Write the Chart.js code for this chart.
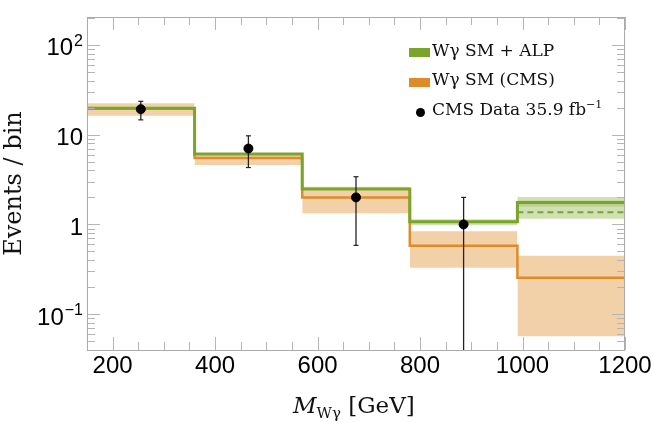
<!DOCTYPE html>
<html>
<head>
<meta charset="utf-8">
<script src="https://cdn.jsdelivr.net/npm/chart.js@4.4.1/dist/chart.umd.min.js"></script>
<style>
  html, body { margin: 0; padding: 0; background: #fff; }
  #wrap { position: relative; width: 654px; height: 422px; }
  .serif { font-family: "DejaVu Serif", serif; color: #111; position: absolute; white-space: nowrap; }
  .legend-row { font-size: 17px; line-height: 17px; }
  .patch { position: absolute; width: 21px; height: 9px; }
  .dot { position: absolute; width: 9px; height: 9px; border-radius: 50%; background: #000; }
  sup { font-size: 11px; vertical-align: 0; position: relative; top: -7px; }
  #xtitle { font-size: 23px; line-height: 23px; }
  #xtitle sub { font-size: 15px; vertical-align: 0; position: relative; top: 5px; }
</style>
</head>
<body>
<div id="wrap">
  <canvas id="chart"></canvas>

  <div class="patch" style="left:409px; top:48px; background:#7aa52a;"></div>
  <div class="serif legend-row" style="left:432px; top:41.5px;">Wγ SM + ALP</div>
  <div class="patch" style="left:409px; top:78px; background:#de8c28;"></div>
  <div class="serif legend-row" style="left:432px; top:71px;">Wγ SM (CMS)</div>
  <div class="dot" style="left:416px; top:108px;"></div>
  <div class="serif legend-row" style="left:432px; top:100.5px;">CMS Data 35.9 fb<sup>−1</sup></div>

  <div id="xtitle" class="serif" style="left:293px; top:393.5px;"><i>M</i><sub>Wγ</sub> [GeV]</div>
</div>

<script>
// bins and values
const binEdges = [150, 360, 570, 780, 990, 1200];
const smAlp = [19.7, 6.1, 2.48, 1.07, 1.76];
const smAlpBandLo = [null, null, null, 0.98, 1.16];
const smAlpBandHi = [null, null, null, 1.14, 2.02];
const smAlpInnerLo = [null, null, null, null, 1.58];
const smAlpInnerHi = [null, null, null, null, 1.85];
const smAlpDashed = [null, null, null, null, 1.37];
const smCms = [19.5, 5.5, 2.0, 0.58, 0.255];
const smCmsBandLo = [16.2, 4.6, 1.33, 0.33, 0.057];
const smCmsBandHi = [22.4, 6.2, 2.63, 0.84, 0.448];

const dataX = [255, 465, 675, 885];
const dataY = [19.2, 7.0, 2.0, 1.0];
const dataLo = [14.6, 4.3, 0.585, 0.01];
const dataHi = [23.5, 9.7, 3.4, 2.0];

const xTickValues = [200, 400, 600, 800, 1000, 1200];
const xMinorTicks = [150, 250, 300, 350, 450, 500, 550, 650, 700, 750, 850, 900, 950, 1050, 1100, 1150];
const yTickValues = [0.1, 1, 10, 100];
const yTickBase = ['10', '1', '10', '10'];
const yTickExp = ['−1', '', '', '2'];

const GREEN = '#7aa52a';
const ORANGE = '#de8c28';

function stepLine(values) {
    return binEdges.map((x, i) => ({ x, y: values[Math.min(i, values.length - 1)] }));
}

function binPair(i, value) {
    return [{ x: binEdges[i], y: value }, { x: binEdges[i + 1], y: value }];
}

const datasets = [];

// bands: lower edge, then upper edge filled down to it
function pushBands(lo, hi, color, order) {
    lo.forEach((v, i) => {
        if (v === null) return;
        datasets.push({ type: 'line', data: binPair(i, v), borderWidth: 0, pointRadius: 0, fill: false, order });
        datasets.push({ type: 'line', data: binPair(i, hi[i]), borderWidth: 0, pointRadius: 0, fill: '-1', backgroundColor: color, order });
    });
}
pushBands(smCmsBandLo, smCmsBandHi, 'rgba(222,140,40,0.4)', 6);
pushBands(smAlpBandLo, smAlpBandHi, 'rgba(122,165,40,0.35)', 5);
pushBands(smAlpInnerLo, smAlpInnerHi, 'rgba(122,165,40,0.25)', 5);

datasets.push({ type: 'line', data: stepLine(smCms), stepped: 'before', borderColor: ORANGE, borderWidth: 2.5, pointRadius: 0, fill: false, order: 4 });
datasets.push({ type: 'line', data: stepLine(smAlp), stepped: 'before', borderColor: GREEN, borderWidth: 3, pointRadius: 0, fill: false, order: 3 });
smAlpDashed.forEach((v, i) => {
    if (v === null) return;
    datasets.push({ type: 'line', data: binPair(i, v), borderColor: GREEN, borderWidth: 2, borderDash: [6, 4], pointRadius: 0, fill: false, order: 3 });
});

// error bars with small caps
dataX.forEach((x, i) => {
    datasets.push({
        type: 'line',
        data: [{ x, y: dataLo[i] }, { x, y: dataHi[i] }],
        borderColor: '#222', borderWidth: 1.3,
        pointStyle: 'line', pointRadius: 2.5, pointBorderColor: '#222', pointBorderWidth: 1.2,
        fill: false, order: 1
    });
});
datasets.push({
    type: 'scatter',
    data: dataX.map((x, i) => ({ x, y: dataY[i] })),
    backgroundColor: '#000', borderColor: '#000', pointRadius: 4.5, order: 0
});

const frameTicks = {
    id: 'frameTicks',
    afterDatasetsDraw(chart) {
        const { ctx, chartArea: a, scales: { x, y } } = chart;
        ctx.save();
        ctx.strokeStyle = '#b5b5b5';
        ctx.lineWidth = 1;
        const line = (x1, y1, x2, y2) => { ctx.beginPath(); ctx.moveTo(x1, y1); ctx.lineTo(x2, y2); ctx.stroke(); };

        const xTick = (v, len) => {
            const px = Math.round(x.getPixelForValue(v)) + 0.5;
            line(px, a.bottom, px, a.bottom - len);
            line(px, a.top, px, a.top + len);
        };
        xMinorTicks.forEach(v => xTick(v, 8));
        xTickValues.forEach(v => xTick(v, 13));

        const yTick = (v, len) => {
            const py = Math.round(y.getPixelForValue(v)) + 0.5;
            if (py < a.top || py > a.bottom) return;
            line(a.left, py, a.left + len, py);
            line(a.right, py, a.right - len, py);
        };
        for (let d = -2; d <= 2; d++) {
            for (let k = 2; k <= 9; k++) yTick(k * Math.pow(10, d), 8);
        }
        yTickValues.forEach(v => yTick(v, 13));

        ctx.strokeStyle = '#aaaaaa';
        ctx.strokeRect(a.left + 0.5, a.top + 0.5, a.right - a.left - 1, a.bottom - a.top);

        // y tick labels with exponents
        ctx.fillStyle = '#000';
        ctx.textBaseline = 'alphabetic';
        ctx.textAlign = 'left';
        yTickValues.forEach((v, i) => {
            const py = y.getPixelForValue(v);
            ctx.font = '16px "Liberation Sans", Arial, sans-serif';
            const expW = yTickExp[i] ? ctx.measureText(yTickExp[i]).width + 1 : 0;
            ctx.font = '24px "Liberation Sans", Arial, sans-serif';
            const baseW = ctx.measureText(yTickBase[i]).width;
            const right = a.left - 4;
            ctx.fillText(yTickBase[i], right - expW - baseW, py + 10.5);
            if (yTickExp[i]) {
                ctx.font = '16px "Liberation Sans", Arial, sans-serif';
                ctx.fillText(yTickExp[i], right - expW + 1, py + 1);
            }
        });
        ctx.restore();
    }
};

new Chart(document.getElementById('chart'), {
    data: { datasets },
    options: {
        responsive: true,
        maintainAspectRatio: false,
        animation: false,
        layout: { padding: { left: 0, right: 29, top: 17, bottom: 0 } },
        plugins: { legend: { display: false }, tooltip: { enabled: false } },
        scales: {
            x: {
                type: 'linear', min: 150, max: 1200,
                afterBuildTicks: s => { s.ticks = xTickValues.map(v => ({ value: v })); },
                afterFit: s => { s.height = 72; },
                grid: { display: false, drawTicks: false },
                border: { display: false },
                ticks: {
                    color: '#000', padding: 2, maxRotation: 0,
                    callback: v => String(v),
                    font: { family: '"Liberation Sans", Arial, sans-serif', size: 24 }
                }
            },
            y: {
                type: 'logarithmic', min: 0.04, max: 204,
                afterBuildTicks: s => { s.ticks = yTickValues.map(v => ({ value: v })); },
                afterFit: s => { s.width = 87; },
                grid: { display: false, drawTicks: false },
                border: { display: false },
                ticks: { display: false },
                title: {
                    display: true, text: 'Events / bin', color: '#111',
                    padding: { top: 0, bottom: 0 },
                    font: { family: '"DejaVu Serif", serif', size: 24, weight: 'normal' }
                }
            }
        }
    },
    plugins: [frameTicks]
});
</script>
</body>
</html>
